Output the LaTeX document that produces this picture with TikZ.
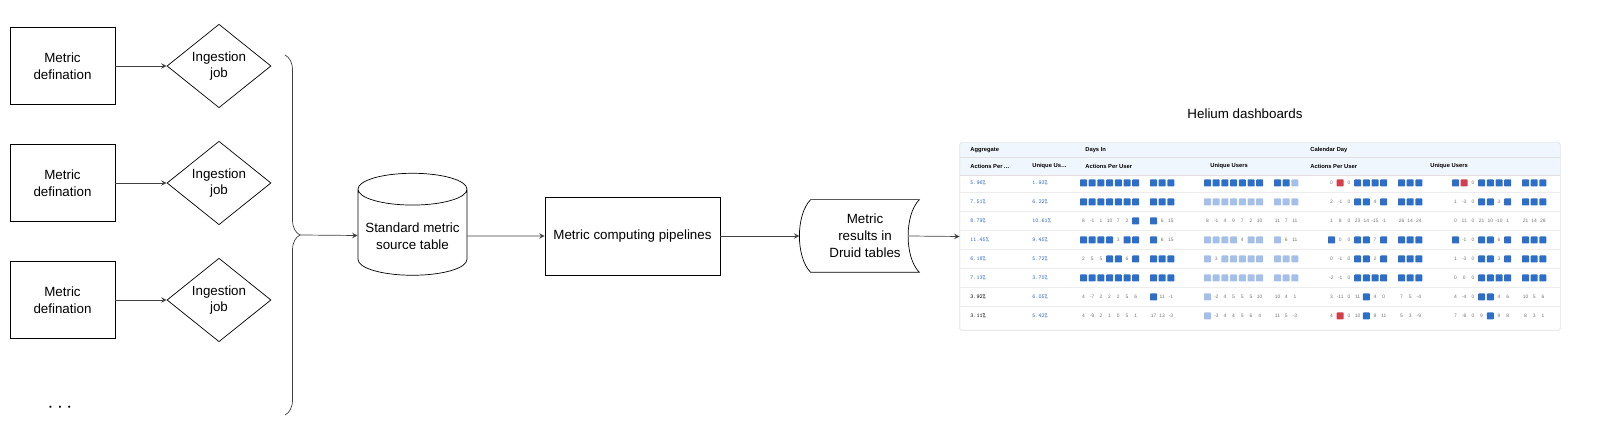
\documentclass[tikz,border=0pt]{standalone}
\usepackage{fontspec}
\setmainfont{Liberation Sans}
\usetikzlibrary{positioning}
\usetikzlibrary{shapes.geometric}
\usetikzlibrary{decorations.pathreplacing}
\definecolor{celldark}{RGB}{45,110,200}
\definecolor{celllight}{RGB}{165,192,232}
\definecolor{cellred}{RGB}{212,62,74}
\definecolor{pctblue}{RGB}{40,100,200}
\definecolor{headfill}{RGB}{240,246,253}
\def\letD{D}
\def\letL{L}
\def\letR{R}

\begin{document}
\begin{tikzpicture} [
            box/.style={draw,rectangle,align=center,font=\fontsize{7.6}{9.6}\selectfont},
            flow/.style={->,black!75},
            >=stealth,
            tiny/.style={font=\fontsize{2.8}{3}\selectfont,inner sep=0pt},
            sq/.style={rectangle,minimum size=0.14cm,inner sep=0pt,rounded corners=0.4pt},
         every node/.append style={align=center}]
\useasboundingbox (0,0) rectangle (32,8.96);

%sources
\foreach \y [count=\n] in {7.64,5.30,2.96}{
  \node (def\n) at (1.25,\y) [box,minimum width=2.1cm,minimum height=1.55cm] {Metric\\defination};
  \node (job\n) at (4.38,\y) [box,diamond,minimum width=2.08cm,minimum height=1.56cm,inner sep=0pt] {Ingestion\\job};
  \draw [flow] (def\n) -- (job\n);
}
\node (more) at (1.2,0.8) {\bfseries\large $\cdots$};

% brace
\coordinate (btop) at (5.7,7.86);
\coordinate (bbot) at (5.7,0.66);
\coordinate (btip) at (6.0,4.26);
\draw [black!75,decorate,decoration={brace,amplitude=0.3cm}] (btop) -- (bbot);

%pipeline
\node (src) at (8.25,4.24) [box,cylinder,shape border rotate=90,aspect=0.3,minimum width=2.18cm,minimum height=2.04cm] {Standard metric\\source table};
\node (pipe) at (12.65,4.24) [box,minimum width=3.5cm,minimum height=1.56cm] {Metric computing pipelines};
\node (store) at (17.3,4.24) [font=\fontsize{7.6}{9.6}\selectfont,minimum width=2.16cm,minimum height=1.44cm,inner sep=0pt] {Metric\\results in\\Druid tables};
\draw (store.north west) .. controls +(-0.3,-0.3) and +(-0.3,0.3) .. (store.south west)
      -- (store.south east) .. controls +(-0.3,0.3) and +(-0.3,-0.3) .. (store.north east) -- cycle;
\coordinate (storein) at ([xshift=-0.225cm]store.west);
\coordinate (storeout) at ([xshift=-0.225cm]store.east);
\draw [flow] (btip) -- (src);
\draw [flow] (src) -- (pipe);
\draw [flow] (pipe) -- (storein);

%dashboard
\node (title) at (24.9,6.68) {\fontsize{7.6}{9}\selectfont Helium dashboards};
\node (dash) at (25.2,4.23) [rectangle,minimum width=12cm,minimum height=3.74cm,inner sep=0pt] {};
\fill [headfill] (19.2,5.46) rectangle (31.2,6.1);
\draw [black!12,rounded corners=1pt] (dash.south west) rectangle (dash.north east);
\draw [black!12] (19.2,5.82) -- (31.2,5.82) (19.2,5.46) -- (31.2,5.46);
\draw [flow] (storeout) -- (dash.west);

\foreach \t/\x in {Aggregate/19.4,Days In/21.7,Calendar Day/26.2}
  \node [tiny,font=\fontsize{3.3}{4}\bfseries,anchor=west] at (\x,5.96) {\t};
\foreach \t/\x in {{Actions Per\,\ldots}/19.4,{Unique Us\ldots}/20.64,Actions Per User/21.7,Unique Users/24.2,Actions Per User/26.2,Unique Users/28.6}
  \node [tiny,font=\fontsize{3.3}{4}\bfseries,anchor=west] at (\x,5.64) {\t};

% percentage columns
\foreach \a/\b/\c [count=\r] in {5.96/1.93/pctblue,7.51/6.22/pctblue,8.79/10.61/pctblue,11.45/9.45/pctblue,6.18/5.72/pctblue,7.13/3.70/pctblue,3.92/6.05/black,3.11/5.42/black}{
  \pgfmathsetmacro\ry{5.3-(\r-1)*0.38}
  \node [tiny,font=\ttfamily\fontsize{3.3}{4}\selectfont,text=\c,anchor=west] at (19.4,\ry) {\a\%};
  \node [tiny,font=\ttfamily\fontsize{3.3}{4}\selectfont,text=pctblue,anchor=west] at (20.64,\ry) {\b\%};
  \ifnum\r<8 \draw [black!7] (19.2,\ry-0.19) -- (31.2,\ry-0.19); \fi
}

% cell grid
\foreach \row [count=\r] in {
 {{D,D,D,D,D,D,D,D,D,D},{D,D,D,D,D,D,D,D,D,L},{0,R,0,D,D,D,D,D,D,D},{D,R,0,D,D,D,D,D,D,D}},
 {{D,D,D,D,D,D,D,D,D,D},{L,L,L,L,L,L,L,L,L,L},{2,-1,0,D,D,4,D,D,D,D},{1,-3,0,D,D,3,D,D,D,D}},
 {{8,-1,1,10,7,2,D,D,6,15},{8,-1,4,9,7,2,10,11,7,11},{1,8,0,23,14,-15,-1,26,14,24},{0,11,0,21,10,-10,1,21,14,28}},
 {{D,D,D,D,3,D,D,D,6,15},{L,L,L,L,4,L,L,L,6,11},{D,0,0,D,D,7,D,D,D,D},{D,-1,0,D,D,6,D,D,D,D}},
 {{2,5,5,D,D,6,D,D,D,D},{L,3,L,L,L,L,L,L,L,L},{0,-1,0,D,D,2,D,D,D,D},{1,-3,0,D,D,3,D,D,D,D}},
 {{D,D,D,D,D,D,D,D,D,D},{L,L,L,L,L,L,L,L,L,L},{-2,-1,0,D,D,D,D,D,D,D},{0,0,0,D,D,D,D,D,D,D}},
 {{4,-7,2,2,2,5,6,D,11,-1},{L,-2,4,5,5,5,10,10,4,1},{3,-11,0,11,D,4,0,7,5,-4},{4,-4,0,D,D,4,6,10,5,6}},
 {{4,-9,2,1,0,5,1,17,13,-3},{L,-3,4,4,5,6,4,11,5,-3},{4,R,0,10,D,8,11,5,3,-9},{7,-8,0,9,D,9,8,8,3,1}}}{
  \pgfmathsetmacro\ry{5.3-(\r-1)*0.38}
  \foreach \g [count=\k] in \row {
    \foreach \c [count=\i] in \g {
      \pgfmathsetmacro\cx{21.67+(\k-1)*2.48+(\i-1)*0.174+(\i>7)*(1.4-7*0.174)}
      \ifx\c\letD \node [sq,fill=celldark] at (\cx,\ry) {};
      \else\ifx\c\letL \node [sq,fill=celllight] at (\cx,\ry) {};
      \else\ifx\c\letR \node [sq,fill=cellred] at (\cx,\ry) {};
      \else \node [tiny,text=black!55] at (\cx,\ry) {\c};
      \fi\fi\fi
    }
  }
}
\end{tikzpicture}
\end{document}
